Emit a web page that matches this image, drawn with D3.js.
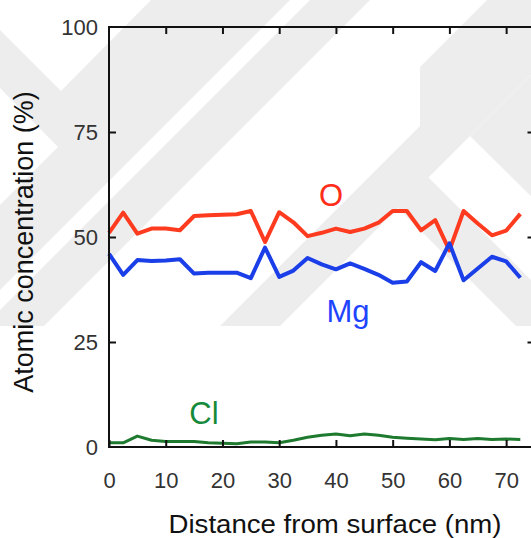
<!DOCTYPE html>
<html>
<head>
<meta charset="utf-8">
<script src="https://cdn.jsdelivr.net/npm/d3@7/dist/d3.min.js"></script>
<style>
  body { margin: 0; background: #fff; }
  svg { display: block; font-family: "Liberation Sans", Arial, sans-serif; }
</style>
</head>
<body>
<div id="chart"></div>
<script>
// depth profile values
var depth = [0, 2.5, 5, 7.5, 10, 12.5, 15, 17.5, 20, 22.5, 25, 27.5, 30, 32.5, 35,
             37.5, 40, 42.5, 45, 47.5, 50, 52.5, 55, 57.5, 60, 62.5, 65, 67.5, 70, 72.5];
var oxygen = [51, 55.8, 50.8, 52, 52, 51.6, 55, 55.2, 55.3, 55.4, 56.2, 48.8, 55.9, 53.5, 50.2,
              51, 52, 51.2, 52, 53.4, 56.2, 56.2, 51.6, 54, 46.8, 56.2, 53.2, 50.4, 51.5, 55.5];
var magnesium = [46, 41, 44.5, 44.3, 44.4, 44.7, 41.3, 41.5, 41.5, 41.5, 40.2, 47.5, 40.5, 42, 45,
                 43.5, 42.3, 43.7, 42.4, 41, 39.1, 39.4, 44, 41.9, 48.5, 39.7, 42.5, 45.3, 44.2, 40.3];
var chlorine = [1.0, 1.0, 2.6, 1.6, 1.3, 1.3, 1.3, 1.0, 0.9, 0.8, 1.2, 1.2, 1.0, 1.6, 2.3,
                2.8, 3.1, 2.7, 3.1, 2.8, 2.3, 2.1, 1.9, 1.7, 2.0, 1.8, 2.0, 1.8, 1.9, 1.8];
var xTicks = [0, 10, 20, 30, 40, 50, 60, 70];
var yTicks = [0, 25, 50, 75, 100];

var width = 531, height = 538;

var svg = d3.select('#chart').append('svg')
  .attr('width', width)
  .attr('height', height);

// faint diagonal watermark behind the plot (decoration only)
svg.append('clipPath').attr('id', 'wmclip')
  .append('rect').attr('x', 0).attr('y', 0).attr('width', width).attr('height', 326);
var wm = svg.append('g').attr('fill', '#ededed').attr('clip-path', 'url(#wmclip)');
var shapes = [
  [[0, 30], [61, 91], [151, 0], [211, 0], [61, 150], [0, 88]],
  [[205, 0], [290, 0], [-36, 326], [-121, 326]],
  [[310, 0], [370, 0], [44, 326], [-16, 326]],
  [[546, 0], [606, 0], [280, 326], [220, 326]],
  [[487, 0], [553, 0], [420, 133], [420, 67]],
  [[470, 136], [540, 66], [540, 205]],
  [[427, 176], [560, 309], [560, 370], [398, 208]]
];
shapes.forEach(function(p) {
  wm.append('polygon').attr('points', p.join(' '));
});

var x = d3.scaleLinear().domain([0, 75]).range([109, 534.5]);
var y = d3.scaleLinear().domain([0, 100]).range([447, 27]);

var line = d3.line()
  .x(function(d, i) { return x(depth[i]); })
  .y(function(d) { return y(d); });

svg.append('path').datum(oxygen)
  .attr('fill', 'none').attr('stroke', '#ff3b1f').attr('stroke-width', 4)
  .attr('stroke-linejoin', 'round').attr('d', line);
svg.append('path').datum(magnesium)
  .attr('fill', 'none').attr('stroke', '#1a3ee8').attr('stroke-width', 4)
  .attr('stroke-linejoin', 'round').attr('d', line);
svg.append('path').datum(chlorine)
  .attr('fill', 'none').attr('stroke', '#1d7a2e').attr('stroke-width', 3)
  .attr('stroke-linejoin', 'round').attr('d', line);

// frame with inward ticks
svg.append('rect')
  .attr('x', x(0)).attr('y', y(100))
  .attr('width', x(75) - x(0)).attr('height', y(0) - y(100))
  .attr('fill', 'none').attr('stroke', '#111').attr('stroke-width', 2);

var tickLen = 7;
svg.append('g')
  .attr('transform', 'translate(0,' + y(0) + ')')
  .call(d3.axisBottom(x).tickValues(xTicks).tickSizeInner(-tickLen).tickSizeOuter(0).tickPadding(25))
  .call(function(g) { g.select('.domain').remove(); });
svg.append('g')
  .attr('transform', 'translate(0,' + y(100) + ')')
  .call(d3.axisTop(x).tickValues(xTicks.slice(1)).tickSizeInner(-tickLen).tickSizeOuter(0).tickFormat(''))
  .call(function(g) { g.select('.domain').remove(); });
svg.append('g')
  .attr('transform', 'translate(' + x(0) + ',0)')
  .call(d3.axisLeft(y).tickValues(yTicks.slice(1, 4)).tickSizeInner(-tickLen).tickSizeOuter(0).tickFormat(''))
  .call(function(g) { g.select('.domain').remove(); });
svg.append('g')
  .attr('transform', 'translate(' + x(75) + ',0)')
  .call(d3.axisRight(y).tickValues(yTicks.slice(1, 4)).tickSizeInner(-tickLen).tickSizeOuter(0).tickFormat(''))
  .call(function(g) { g.select('.domain').remove(); });

svg.selectAll('.tick line').attr('stroke', '#111').attr('stroke-width', 2);

svg.selectAll('.tick text')
  .attr('font-size', 22).attr('fill', '#333')
  .attr('font-family', '"Liberation Sans", Arial, sans-serif');

// y tick labels
svg.append('g').selectAll('text').data(yTicks).enter().append('text')
  .attr('x', 98)
  .attr('y', function(d) { return y(d); })
  .attr('dy', '0.38em')
  .attr('text-anchor', 'end')
  .attr('font-size', 22).attr('fill', '#333')
  .text(function(d) { return d; });

// axis titles
svg.append('text')
  .attr('x', 335).attr('y', 533)
  .attr('text-anchor', 'middle')
  .attr('font-size', 26).attr('fill', '#111')
  .attr('textLength', 333).attr('lengthAdjust', 'spacingAndGlyphs')
  .text('Distance from surface (nm)');
svg.append('text')
  .attr('transform', 'translate(33,242) rotate(-90)')
  .attr('text-anchor', 'middle')
  .attr('font-size', 27).attr('fill', '#111')
  .text('Atomic concentration (%)');

// series labels
var labels = [
  { t: 'O', x: 331, y: 206, c: '#ff2d1a' },
  { t: 'Mg', x: 348, y: 322, c: '#1f44ff' },
  { t: 'Cl', x: 204, y: 424, c: '#158a3a' }
];
svg.append('g').selectAll('text').data(labels).enter().append('text')
  .attr('x', function(d) { return d.x; })
  .attr('y', function(d) { return d.y; })
  .attr('text-anchor', 'middle')
  .attr('font-size', 31)
  .attr('fill', function(d) { return d.c; })
  .text(function(d) { return d.t; });
</script>
</body>
</html>
